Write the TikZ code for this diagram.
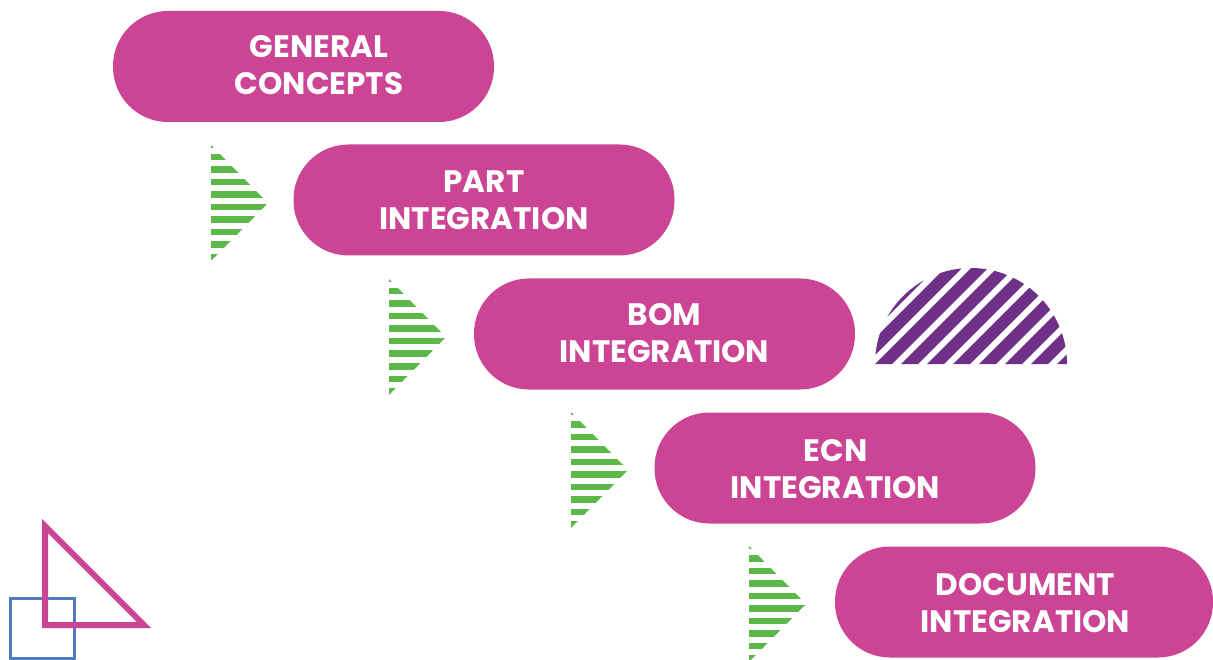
\documentclass[tikz,border=0pt]{standalone}
\usepackage{fontspec}
\setmainfont{Poppins}
\definecolor{pinkc}{HTML}{CC4494}
\definecolor{greenc}{HTML}{5DB84A}
\definecolor{purplec}{HTML}{6F3088}
\definecolor{bluec}{HTML}{4F7CC0}
\tikzset{
  pill/.style={fill=pinkc, draw=none, rounded corners=55pt, minimum width=381pt, minimum height=111pt, inner sep=0pt},
  lbl/.style={text=white, font=\fontsize{31}{37}\selectfont\bfseries, align=center, inner sep=0pt},
}
\begin{document}
\begin{tikzpicture}[x=1pt,y=-1pt]
\useasboundingbox (0,0) rectangle (1213,660);
% pills
\node[pill] (p1) at (303.5,66.5) {};
\node[pill] (p2) at (484,200) {};
\node[pill] (p3) at (664.5,334) {};
\node[pill] (p4) at (845,468) {};
\node[pill, minimum width=378pt] (p5) at (1024,602) {};
\node[lbl] (t1) at (319,65) {GENERAL\\CONCEPTS};
\node[lbl] (t2) at (484,200) {PART\\INTEGRATION};
\node[lbl] (t3) at (664.5,333) {BOM\\INTEGRATION};
\node[lbl] (t4) at (835.5,469) {ECN\\INTEGRATION};
\node[lbl] (t5) at (1025.5,603) {DOCUMENT\\INTEGRATION};
% green striped arrows
\foreach \dx/\dy in {211/145, 389/279, 571/412, 749/546}{
  \begin{scope}[shift={(\dx,\dy)}]
    \clip (0,0) -- (57,58) -- (0,116) -- cycle;
    \foreach \k in {0,...,9}{
      \fill[greenc] (0,{-3.5+12.5*\k}) rectangle (60,{3+12.5*\k});
    }
  \end{scope}
}
% purple striped dome
\begin{scope}
  \clip (875,364) arc[start angle=180, end angle=360, radius=96] -- cycle;
  \foreach \k in {-3,...,10}{
    \pgfmathsetmacro{\u}{1239+26*\k}
    \fill[purplec] ({\u-260},260) -- ({\u+17-260},260) -- ({\u+17-370},370) -- ({\u-370},370) -- cycle;
  }
\end{scope}
% decorative shapes
\draw[bluec, line width=3pt] (10,598) rectangle (74,658);
\draw[pinkc, line width=6pt, miter limit=10] (45,526) -- (45,625) -- (144,625) -- cycle;
\end{tikzpicture}
\end{document}
